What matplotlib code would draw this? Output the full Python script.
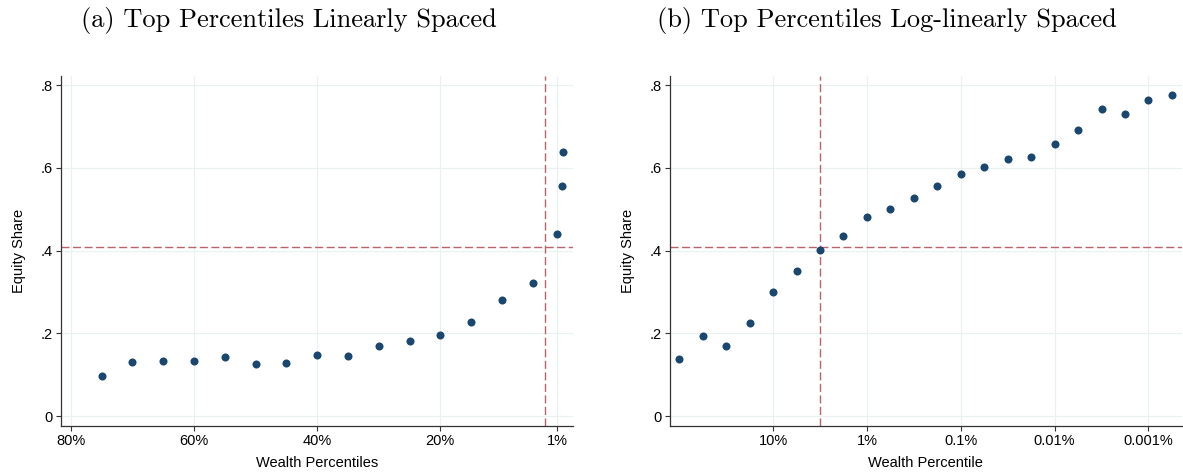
import matplotlib
matplotlib.use("Agg")
import matplotlib.pyplot as plt

# panel (a): percentiles, linear spacing
lin_pct = [75, 70, 65, 60, 55, 50, 45, 40, 35, 30, 25, 20, 15, 10, 5, 1.1, 0.25, 0.15]
lin_share = [0.097, 0.130, 0.134, 0.133, 0.142, 0.127, 0.128, 0.148, 0.145, 0.169,
             0.181, 0.196, 0.228, 0.280, 0.323, 0.440, 0.556, 0.638]
lin_ticks = [80, 60, 40, 20, 1]
lin_labels = ["80%", "60%", "40%", "20%", "1%"]
lin_vline = 2.93

# panel (b): percentiles, log-linear spacing
log_pct = [100, 56.2, 31.6, 17.8, 10, 5.62, 3.16, 1.78, 1, 0.562, 0.316, 0.178,
           0.1, 0.0562, 0.0316, 0.0178, 0.01, 0.00562, 0.00316, 0.00178, 0.001, 0.000562]
log_share = [0.138, 0.195, 0.170, 0.225, 0.299, 0.351, 0.401, 0.435, 0.482, 0.501,
             0.527, 0.557, 0.585, 0.601, 0.621, 0.626, 0.658, 0.692, 0.742, 0.731,
             0.765, 0.775]
log_ticks = [10, 1, 0.1, 0.01, 0.001]
log_labels = ["10%", "1%", "0.1%", "0.01%", "0.001%"]
log_vline = 3.16

y_ticks = [0, 0.2, 0.4, 0.6, 0.8]
y_labels = ["0", ".2", ".4", ".6", ".8"]
hline = 0.408

navy = "#1a476f"
dash_red = "#b8646a"
grid_col = "#e9f1f2"
sans = "Liberation Sans"

W, H = 1183, 474
fig = plt.figure(figsize=(W / 100, H / 100), dpi=100)


def style_axes(ax, xlabel):
    for s in ["top", "right"]:
        ax.spines[s].set_visible(False)
    for s in ["left", "bottom"]:
        ax.spines[s].set_color("#333333")
        ax.spines[s].set_linewidth(0.9)
    ax.set_yticks(y_ticks)
    ax.set_yticklabels(y_labels)
    ax.set_ylim(-0.0235, 0.822)
    ax.grid(True, color=grid_col, linewidth=0.9)
    ax.set_axisbelow(True)
    ax.tick_params(axis="both", which="major", length=3.3, width=0.8,
                   color="#333333", pad=2.5, labelsize=10.5)
    ax.tick_params(axis="both", which="minor", length=0)
    for lab in ax.get_xticklabels() + ax.get_yticklabels():
        lab.set_family(sans)
    ax.set_ylabel("Equity Share", family=sans, fontsize=10.5)
    ax.set_xlabel(xlabel, family=sans, fontsize=10.5)
    ax.yaxis.set_label_coords(-0.068, 0.5)
    ax.xaxis.set_label_coords(0.5, -0.085)


# left panel
ax1 = fig.add_axes([61 / W, 48 / H, 512 / W, 350 / H])
ax1.set_xlim(81.6, -1.55)
ax1.set_xticks(lin_ticks)
ax1.set_xticklabels(lin_labels)
ax1.axhline(hline, color=dash_red, lw=1.0, dashes=(5.8, 2.5))
ax1.axvline(lin_vline, color=dash_red, lw=1.0, dashes=(5.8, 2.5))
ax1.plot(lin_pct, lin_share, "o", color=navy, markersize=5.8, markeredgewidth=0)
style_axes(ax1, "Wealth Percentiles")

# right panel
ax2 = fig.add_axes([670 / W, 48 / H, 511.5 / W, 350 / H])
ax2.set_xscale("log")
ax2.set_xlim(10 ** 2.098, 10 ** -3.352)
ax2.set_xticks(log_ticks)
ax2.set_xticklabels(log_labels)
ax2.minorticks_off()
ax2.axhline(hline, color=dash_red, lw=1.0, dashes=(5.8, 2.5))
ax2.axvline(log_vline, color=dash_red, lw=1.0, dashes=(5.8, 2.5))
ax2.plot(log_pct, log_share, "o", color=navy, markersize=5.8, markeredgewidth=0)
style_axes(ax2, "Wealth Percentile")

fig.text(289 / W, 1 - 20 / H, "(a) Top Percentiles Linearly Spaced",
         family="cmr10", fontsize=19, ha="center", va="center")
fig.text(887 / W, 1 - 20 / H, "(b) Top Percentiles Log-linearly Spaced",
         family="cmr10", fontsize=19, ha="center", va="center")

fig.savefig("out.png", dpi=100)
